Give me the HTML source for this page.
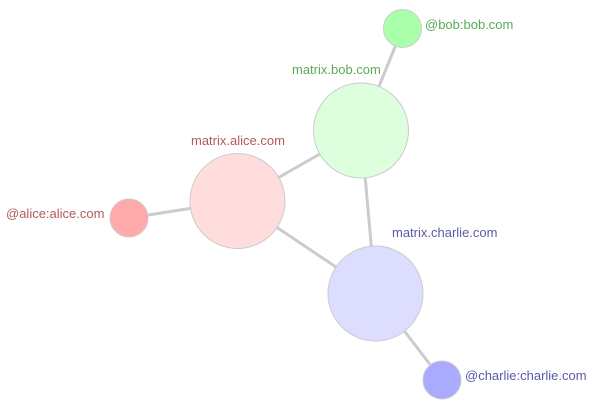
<!DOCTYPE html>
<html><head><style>body{margin:0;background:#fff}svg{display:block}text{font-family:"Liberation Sans",sans-serif;font-size:13px}</style></head>
<body>
<svg width="600" height="410" viewBox="0 0 600 410">
<g stroke="#ccc" stroke-width="3">
<line x1="129" y1="218" x2="237.5" y2="201"/>
<line x1="237.5" y1="201" x2="361" y2="130.5"/>
<line x1="237.5" y1="201" x2="375.5" y2="293.5"/>
<line x1="361" y1="130.5" x2="375.5" y2="293.5"/>
<line x1="361" y1="130.5" x2="402.5" y2="28.5"/>
<line x1="375.5" y1="293.5" x2="442" y2="380"/>
</g>
<g stroke="#ccc" stroke-width="1">
<circle cx="237.5" cy="201" r="47.5" fill="#ffdddd"/>
<circle cx="129" cy="218" r="19" fill="#ffaaaa"/>
<circle cx="361" cy="130.5" r="47.5" fill="#ddffdd"/>
<circle cx="402.5" cy="28.5" r="19" fill="#aaffaa"/>
<circle cx="375.5" cy="293.5" r="47.5" fill="#ddddff"/>
<circle cx="442" cy="380" r="19" fill="#aaaaff"/>
</g>
<text x="191" y="145" fill="#b05a5a">matrix.alice.com</text>
<text x="6" y="218" fill="#b05a5a">@alice:alice.com</text>
<text x="292" y="74" fill="#5aaa5a">matrix.bob.com</text>
<text x="425" y="29" fill="#5aaa5a">@bob:bob.com</text>
<text x="392" y="237" fill="#5a5aaa">matrix.charlie.com</text>
<text x="465" y="380" fill="#5a5aaa">@charlie:charlie.com</text>
</svg>
</body></html>
